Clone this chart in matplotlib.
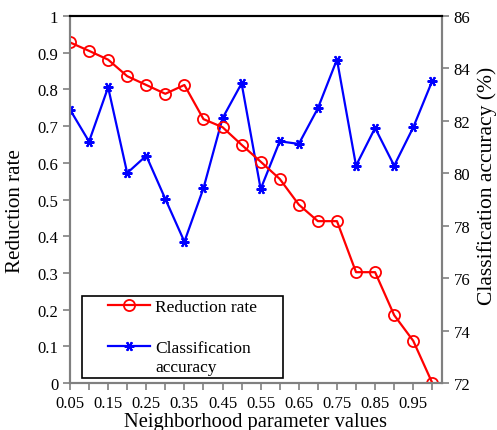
import matplotlib.pyplot as plt
import numpy as np
from matplotlib.legend_handler import HandlerLine2D
from matplotlib.path import Path

plt.rcParams['font.family'] = 'Liberation Serif'

params = [0.05, 0.10, 0.15, 0.20, 0.25, 0.30, 0.35, 0.40, 0.45, 0.50,
          0.55, 0.60, 0.65, 0.70, 0.75, 0.80, 0.85, 0.90, 0.95, 1.00]
reduction = [0.928, 0.905, 0.881, 0.836, 0.812, 0.788, 0.812, 0.719, 0.697, 0.649,
             0.603, 0.556, 0.486, 0.441, 0.441, 0.302, 0.302, 0.185, 0.115, 0.0]
accuracy = [82.43, 81.21, 83.28, 80.01, 80.67, 79.02, 77.39, 79.43, 82.10, 83.43,
            79.40, 81.22, 81.12, 82.48, 84.34, 80.29, 81.73, 80.29, 81.75, 83.53]
xtick_labels = ['0.05', '0.15', '0.25', '0.35', '0.45', '0.55', '0.65', '0.75', '0.85', '0.95']


# legend handle, can be lifted to sit on the first line of a 2-line label
class LiftedHandler(HandlerLine2D):
    def __init__(self, lift=0.0, **kw):
        super().__init__(**kw)
        self.lift = lift

    def create_artists(self, legend, orig_handle, xdescent, ydescent,
                       width, height, fontsize, trans):
        return super().create_artists(legend, orig_handle, xdescent,
                                      ydescent - 2 * self.lift, width,
                                      height, fontsize, trans)


# frame wider than the content on left/right only (excel-like legend box)
def wide_box(x0, y0, width, height, mutation_size):
    left = 1.3 * mutation_size
    right = 1.25 * mutation_size
    xa, xb = x0 - left, x0 + width + right
    ya, yb = y0, y0 + height
    return Path([(xa, ya), (xb, ya), (xb, yb), (xa, yb), (xa, ya)],
                [Path.MOVETO, Path.LINETO, Path.LINETO, Path.LINETO, Path.CLOSEPOLY])


fig = plt.figure(figsize=(4.97, 4.31), dpi=100)
ax = fig.add_axes([0.1408, 0.109, 0.7482, 0.8516])
ax2 = ax.twinx()

l1, = ax.plot(params, reduction, color='red', lw=1.6, marker='o', ms=8,
              mfc='none', mec='red', mew=1.3)
l2, = ax2.plot(params, accuracy, color='blue', lw=1.6, marker=(6, 2, 90), ms=7,
               mec='blue', mew=1.5)

ax.set_xlim(0.05, 1.025)
ax.set_ylim(0, 1)
ax2.set_ylim(72, 86)
ax.set_xticks([float(t) for t in xtick_labels])
ax.set_xticklabels(xtick_labels)
ax.set_xticks(params, minor=True)
ax.set_yticks(np.arange(0, 1.01, 0.1))
ax.set_yticklabels(['0', '0.1', '0.2', '0.3', '0.4', '0.5', '0.6', '0.7', '0.8', '0.9', '1'])
ax2.set_yticks(range(72, 87, 2))

grey = '#808080'
for a in (ax, ax2):
    a.spines['left'].set_color(grey)
    a.spines['bottom'].set_color(grey)
    a.spines['right'].set_color(grey)
    a.spines['top'].set_color('black')
    for s in a.spines.values():
        s.set_linewidth(1.5)
ax.tick_params(axis='both', which='both', direction='out', color=grey, width=1.2,
               labelsize=12, length=5)
ax2.tick_params(axis='y', direction='out', color=grey, width=1.2, labelsize=12, length=5)

ax.set_xlabel('Neighborhood parameter values', fontsize=14.8, labelpad=1)
ax.set_ylabel('Reduction rate', fontsize=15.2)
ax.yaxis.set_label_coords(-0.121, 0.47)
ax2.set_ylabel('Classification accuracy (%)', fontsize=15.5)
ax2.yaxis.set_label_coords(1.094, 0.54)

leg = ax.legend([l1, l2], ['Reduction rate', 'Classification\naccuracy'],
                loc='lower left', bbox_to_anchor=(0.092, 0.013), borderaxespad=0,
                fontsize=12.5, frameon=True, fancybox=False, edgecolor='black',
                framealpha=1, handlelength=2.45, handletextpad=0.3,
                labelspacing=1.45, borderpad=0.2,
                handler_map={l2: LiftedHandler(lift=8.0)})
leg.get_frame().set_linewidth(1.2)
leg.get_frame().set_boxstyle(wide_box)
ax.set_zorder(ax2.get_zorder() + 1)
ax.patch.set_visible(False)

fig.savefig('out.png', dpi=100)
